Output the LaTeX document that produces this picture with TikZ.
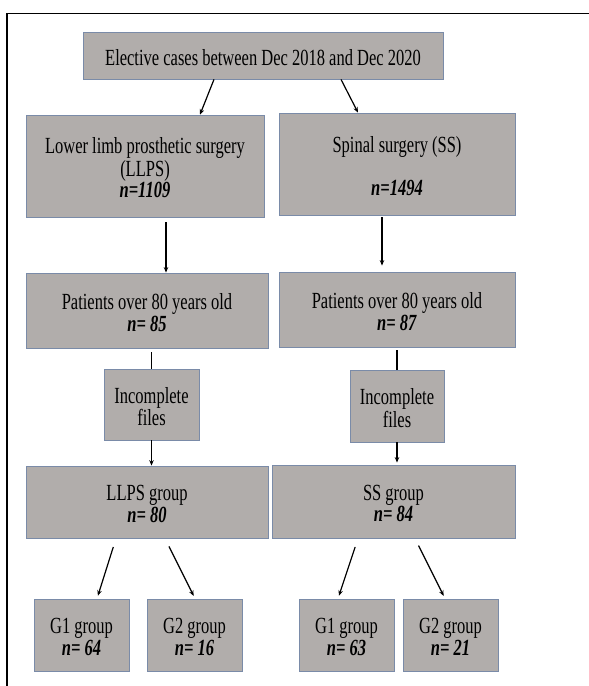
\documentclass[tikz,border=0pt]{standalone}
\usepackage{fontspec}
\setmainfont{Liberation Serif}
\usetikzlibrary{arrows.meta,calc}
\definecolor{boxfill}{HTML}{B1ADAB}
\definecolor{boxline}{HTML}{7A8BA8}
\tikzset{
  box/.style={draw=boxline, fill=boxfill, line width=0.8pt, rectangle, inner sep=0pt,
    align=center, font=\fontsize{16.5}{14.8}\selectfont, text=black},
  arr/.style={line width=1.2pt, -{Stealth[length=5.5pt,width=4.5pt]}},
  ln/.style={line width=1.2pt}
}
\newcommand{\nval}[1]{\textbf{\textit{#1}}}
\newcommand{\tx}[1]{\raisebox{-5pt}[\height][\depth]{\scalebox{1}[1.4]{\begin{tabular}{@{}c@{}}#1\end{tabular}}}}
\begin{document}
\begin{tikzpicture}[x=1pt,y=-1pt]
\useasboundingbox (0,0) rectangle (589,686);
\clip (0,0) rectangle (589,686);
\fill[white] (0,0) rectangle (589,686);
\draw[line width=1.3pt] (7,700) -- (7,13.5) -- (600,13.5);

\node[box, minimum width=360, minimum height=47] (top) at (263,55.5) {\tx{Elective cases between Dec 2018 and Dec 2020}};

\node[box, minimum width=238, minimum height=102] (llps) at (145,166) {\tx{Lower limb prosthetic surgery\\(LLPS)\\\nval{n=1109}}};
\node[box, minimum width=236, minimum height=102] (ss) at (397,164) {\tx{Spinal surgery (SS)\\ \\\nval{n=1494}}};

\node[box, minimum width=242, minimum height=75] (pl) at (147,310.5) {\tx{Patients over 80 years old\\\nval{n= 85}}};
\node[box, minimum width=236, minimum height=75] (pr) at (397,309.5) {\tx{Patients over 80 years old\\\nval{n= 87}}};

\node[box, minimum width=95, minimum height=71] (il) at (151.5,404.5) {\tx{Incomplete\\files}};
\node[box, minimum width=94, minimum height=72] (ir) at (397,406) {\tx{Incomplete\\files}};

\node[box, minimum width=242, minimum height=72] (lg) at (147,502) {\tx{LLPS group\\\nval{n= 80}}};
\node[box, minimum width=243, minimum height=73] (sg) at (393.5,501.5) {\tx{SS group\\\nval{n= 84}}};

\node[box, minimum width=95, minimum height=72] (g1l) at (81.5,635) {\tx{G1 group\\\nval{n= 64}}};
\node[box, minimum width=95, minimum height=72] (g2l) at (194.5,635) {\tx{G2 group\\\nval{n= 16}}};
\node[box, minimum width=95, minimum height=72] (g1r) at (346.5,635) {\tx{G1 group\\\nval{n= 63}}};
\node[box, minimum width=95, minimum height=72] (g2r) at (450.5,635) {\tx{G2 group\\\nval{n= 21}}};

% connectors
\draw[arr] ([xshift=-49]top.south) -- ([xshift=55]llps.north);
\draw[arr] ([xshift=78]top.south) -- ([xshift=-39]ss.north);

\draw[arr, shorten <=5pt] ([xshift=21]llps.south) -- ([xshift=21]llps.south |- pl.north);
\draw[arr, shorten <=2pt, shorten >=6pt] ([xshift=-15]ss.south) -- ([xshift=-15]ss.south |- pr.north);

\draw[ln, shorten <=4pt] (pl.south -| il.north) -- (il.north);
\draw[arr] (il.south) -- (il.south |- lg.north);
\draw[ln, shorten <=3pt] (pr.south -| ir.north) -- (ir.north);
\draw[arr, shorten >=2pt] (ir.south) -- (ir.south |- sg.north);

\draw[arr, shorten <=9pt, shorten >=3pt] ([xshift=-31]lg.south) -- ([xshift=15.5]g1l.north);
\draw[arr, shorten <=9pt, shorten >=3pt] ([xshift=18]lg.south) -- ([xshift=0.5]g2l.north);
\draw[arr, shorten <=9pt, shorten >=3pt] ([xshift=-35.5]sg.south) -- ([xshift=-8.5]g1r.north);
\draw[arr, shorten <=8pt, shorten >=3pt] ([xshift=21.5]sg.south) -- ([xshift=-5.5]g2r.north);
\end{tikzpicture}
\end{document}
